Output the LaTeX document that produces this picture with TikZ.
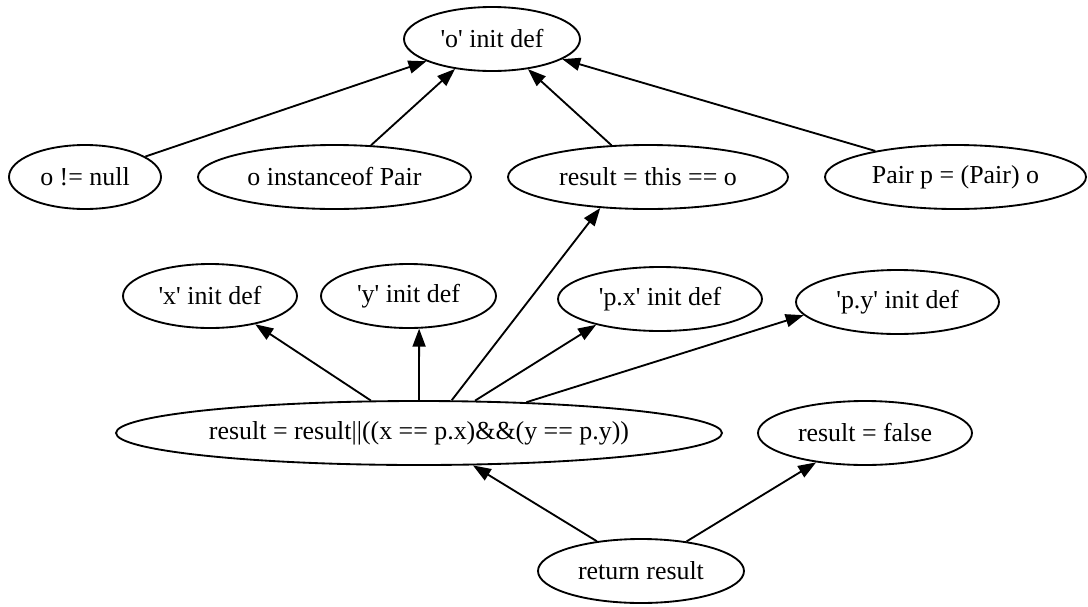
\documentclass[tikz,border=0pt]{standalone}
\usepackage{fontspec}
\setmainfont{Liberation Serif}[Ligatures=TeXOff]
\usetikzlibrary{shapes.geometric,arrows.meta}
\tikzset{
  stmt/.style={ellipse, draw, line width=1.85pt, inner sep=0pt,
    minimum height=64pt, font=\fontsize{25.9}{30}\selectfont},
  dep/.style={line width=1.85pt, -{Triangle[length=18pt,width=13pt]}},
}
\begin{document}
\begin{tikzpicture}[x=1pt,y=-1pt]
\useasboundingbox (0,0) rectangle (1088,606);
% definitions and statements
\node[stmt, minimum width=176pt] (odef)   at (492,39)    {'o' init def};
\node[stmt, minimum width=152pt] (onn)    at (85,177)    {o != null};
\node[stmt, minimum width=273pt] (oinst)  at (334.5,177) {o instanceof Pair};
\node[stmt, minimum width=280pt] (rthis)  at (648,177)   {result = this == o};
\node[stmt, minimum width=261pt] (pcast)  at (955.5,177) {Pair p = (Pair) o};
\node[stmt, minimum width=174pt] (xdef)   at (210,296)   {'x' init def};
\node[stmt, minimum width=175pt] (ydef)   at (408.5,296) {'y' init def};
\node[stmt, minimum width=204pt] (pxdef)  at (660,299)   {'p.x' init def};
\node[stmt, minimum width=203pt] (pydef)  at (897.5,302) {'p.y' init def};
\node[stmt, minimum width=606pt] (rres)   at (419,433)   {result = result||((x == p.x)\&\&(y == p.y))};
\node[stmt, minimum width=214pt] (rfalse) at (865,433)   {result = false};
\node[stmt, minimum width=206pt] (ret)    at (641,571)   {return result};
% dependencies
\draw[dep] (onn)         -- (odef);
\draw[dep] (oinst.41.3)  -- (odef.219.8);
\draw[dep] (rthis.139)   -- (odef.320);
\draw[dep] (pcast.162.9) -- (odef.344);
\draw[dep] (rres.146.8)  -- (xdef.328.3);
\draw[dep] (rres.90)     -- (ydef.-72.3);
\draw[dep] (rres.45.8)   -- (rthis.213.4);
\draw[dep] (rres.30.8)   -- (pxdef.202);
\draw[dep] (rres.16.8)   -- (pydef.188.9);
\draw[dep] (ret.146.3)   -- (rres.329.6);
\draw[dep] (ret.33.1)    -- (rfalse.211);
\end{tikzpicture}
\end{document}
